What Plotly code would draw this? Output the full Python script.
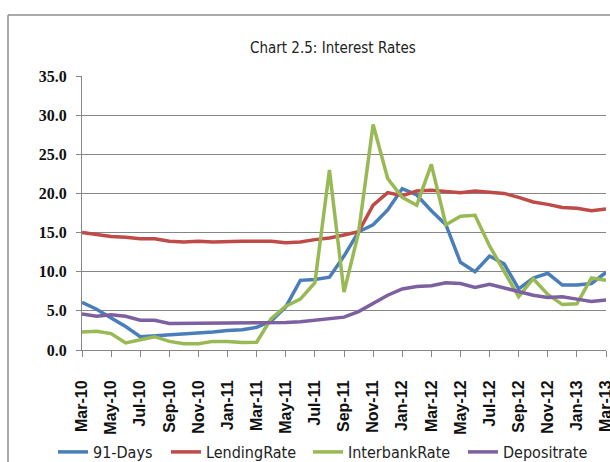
import plotly.graph_objects as go
import pandas as pd

# Monthly observations, Mar-2010 to Mar-2013
months = pd.date_range("2010-03-01", "2013-03-01", freq="MS").strftime("%b-%y").tolist()

tbill_91 = [6.1, 5.2, 4.1, 3.0, 1.7, 1.8, 1.9, 2.1, 2.2, 2.3, 2.5, 2.6, 2.9,
            3.7, 5.5, 8.9, 9.0, 9.3, 12.0, 15.1, 16.0, 17.9, 20.6, 19.8, 17.8,
            16.0, 11.2, 10.0, 12.0, 11.0, 7.8, 9.2, 9.8, 8.3, 8.3, 8.5, 9.9]
lending = [15.0, 14.7, 14.5, 14.4, 14.2, 14.2, 13.9, 13.8, 13.9, 13.8, 13.9, 13.9, 13.9,
           13.9, 13.7, 13.8, 14.1, 14.3, 14.7, 15.1, 18.5, 20.1, 19.7, 20.3, 20.4,
           20.3, 20.1, 20.3, 20.1, 20.0, 19.5, 18.9, 18.6, 18.2, 18.1, 17.8, 18.0]
interbank = [2.3, 2.4, 2.1, 0.9, 1.3, 1.7, 1.1, 0.8, 0.8, 1.1, 1.1, 0.95, 1.0,
             4.0, 5.6, 6.5, 8.6, 23.0, 7.4, 15.0, 28.8, 21.9, 19.5, 18.5, 23.7,
             16.0, 17.1, 17.2, 13.3, 10.0, 6.8, 9.1, 7.1, 5.8, 5.9, 9.2, 8.9]
deposit = [4.6, 4.3, 4.5, 4.3, 3.8, 3.8, 3.4, 3.4, 3.4, 3.4, 3.4, 3.4, 3.4,
           3.4, 3.5, 3.6, 3.8, 4.0, 4.2, 4.9, 6.0, 7.0, 7.8, 8.1, 8.2,
           8.6, 8.5, 8.0, 8.4, 7.9, 7.5, 7.0, 6.7, 6.8, 6.5, 6.2, 6.4]

series = [
    ("91-Days", tbill_91, "#4A7EBB"),
    ("LendingRate", lending, "#BE4B48"),
    ("InterbankRate", interbank, "#98B954"),
    ("Depositrate", deposit, "#7D60A0"),
]

W, H = 610, 462
L, R, T, B = 82, 4, 76, 112
pw, ph = W - L - R, H - T - B

def px_x(p):
    return (p - L) / pw

def px_y(p):
    return (H - B - p) / ph

narrow = "DejaVu Sans Condensed, Liberation Sans Narrow, Arial Narrow, sans-serif"

# each series gets its own legend box so the entries sit where they belong
legend_left = [53, 166, 308, 463]
legend_ids = ["legend", "legend2", "legend3", "legend4"]

fig = go.Figure()
for (name, vals, col), lid in zip(series, legend_ids):
    fig.add_trace(go.Scatter(x=months, y=vals, name=name, mode="lines", legend=lid,
                             line=dict(color=col, width=3.5)))

legend_style = dict(orientation="h", xanchor="left", yanchor="middle",
                    font=dict(family=narrow, size=16, color="#222"),
                    itemwidth=30, bgcolor="rgba(0,0,0,0)")
legends = {}
for lid, lx in zip(legend_ids, legend_left):
    legends[lid] = dict(legend_style, x=px_x(lx), y=px_y(452))

# outer chart frame (runs off the right and bottom edges)
fig.add_shape(type="line", xref="paper", yref="paper",
              x0=px_x(8), x1=px_x(W + 20), y0=px_y(15), y1=px_y(15),
              line=dict(color="#8c8c8c", width=1.5))
fig.add_shape(type="line", xref="paper", yref="paper",
              x0=px_x(8), x1=px_x(8), y0=px_y(15), y1=px_y(H + 20),
              line=dict(color="#8c8c8c", width=1.5))

fig.add_annotation(text="Chart 2.5: Interest Rates", xref="paper", yref="paper",
                   x=px_x(333), y=px_y(48), xanchor="center", yanchor="middle",
                   showarrow=False,
                   font=dict(family=narrow, size=15, color="#222"))

fig.update_layout(
    width=W, height=H,
    margin=dict(l=L, r=R, t=T, b=B, pad=0, autoexpand=False),
    paper_bgcolor="white", plot_bgcolor="white",
    showlegend=True,
    **legends,
    xaxis=dict(type="category", range=[0, 36], tickmode="array", tickvals=months[::2],
               tickangle=-90, ticks="outside", ticklen=6, tickcolor="#868686",
               ticklabelstandoff=17, automargin=False,
               showline=True, linecolor="#868686", linewidth=1, showgrid=False,
               tickfont=dict(family="Liberation Sans, Arial, sans-serif", size=16,
                             color="#111", weight="bold")),
    yaxis=dict(range=[0, 35], dtick=5, tickformat=".1f", ticks="outside", ticklen=5,
               tickcolor="#868686", showline=True, linecolor="#868686", linewidth=1,
               ticklabelstandoff=6, automargin=False,
               showgrid=True, gridcolor="#868686", gridwidth=1, zeroline=False,
               tickfont=dict(family="Liberation Serif, Times New Roman, serif", size=16,
                             color="#111", weight="bold")),
)

fig.write_html("out.html")
